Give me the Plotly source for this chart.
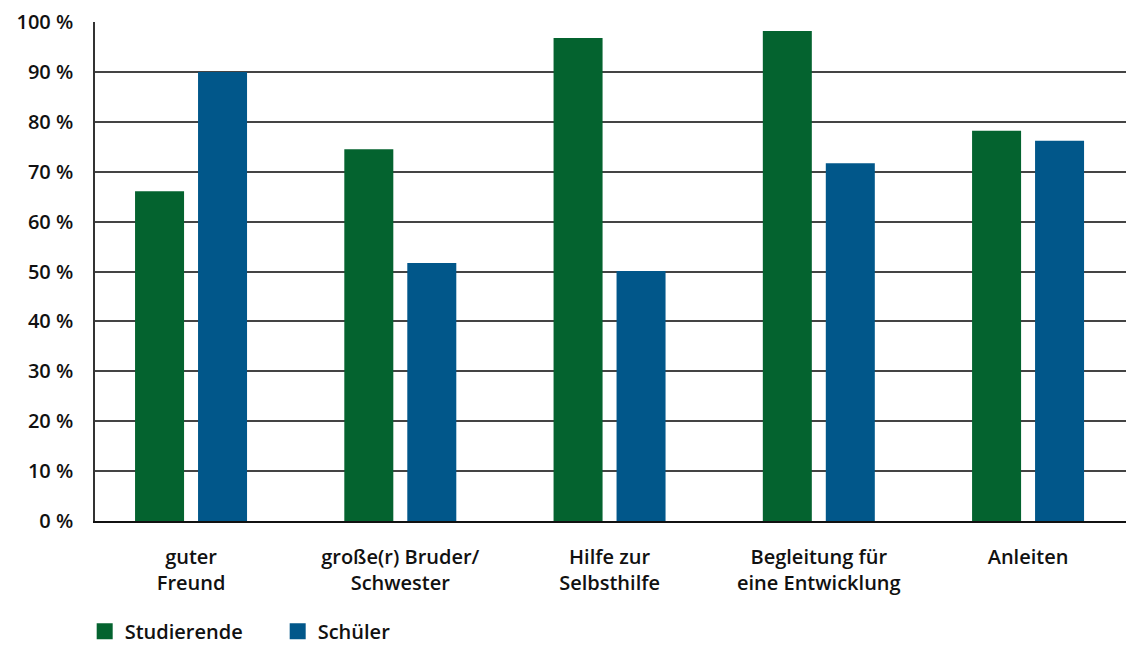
import plotly.graph_objects as go

categories = ["guter<br>Freund", "große(r) Bruder/<br>Schwester", "Hilfe zur<br>Selbsthilfe",
              "Begleitung für<br>eine Entwicklung", "Anleiten"]
studierende = [66.1, 74.5, 96.8, 98.2, 78.2]
schueler = [90.0, 51.7, 50.1, 71.7, 76.2]
y_ticks = list(range(0, 101, 10))
y_ticktext = [f"{v} %" for v in y_ticks]

green = "#04632F"
blue = "#01578A"
font = dict(family="Open Sans, Roboto, sans-serif", size=20, color="#111111", weight=600)

fig = go.Figure()
fig.add_trace(go.Bar(x=categories, y=studierende, name="Studierende", marker_color=green,
                     marker_line_width=0, showlegend=False))
fig.add_trace(go.Bar(x=categories, y=schueler, name="Schüler", marker_color=blue,
                     marker_line_width=0, showlegend=False))
# legend entries with larger square symbols
fig.add_trace(go.Scatter(x=[None], y=[None], mode="markers", name="Studierende",
                         marker=dict(symbol="square", size=20, color=green)))
fig.add_trace(go.Scatter(x=[None], y=[None], mode="markers", name="Schüler",
                         marker=dict(symbol="square", size=20, color=blue)))

fig.update_layout(
    width=1126, height=645,
    margin=dict(l=95, r=0, t=22, b=124, autoexpand=False),
    paper_bgcolor="white", plot_bgcolor="white",
    font=font,
    barmode="group", bargap=0.398, bargroupgap=0.222,
    showlegend=True,
    legend=dict(orientation="h", x=-0.01, xanchor="left", y=-0.221, yanchor="middle",
                font=font, itemsizing="trace", tracegroupgap=0,
                entrywidth=148),
)
fig.update_xaxes(range=[-0.459, 4.468], showgrid=False, showline=True, linecolor="#111111",
                 linewidth=2, ticks="", ticklabelstandoff=17, tickfont=font, automargin=False)
fig.update_yaxes(range=[0, 100], tickvals=y_ticks, ticktext=y_ticktext, showgrid=True,
                 gridcolor="#444444", gridwidth=2, showline=True, linecolor="#333333",
                 linewidth=1.5, zeroline=False, ticks="", ticklabelstandoff=16, tickfont=font,
                 automargin=False)

fig.write_html("out.html")
